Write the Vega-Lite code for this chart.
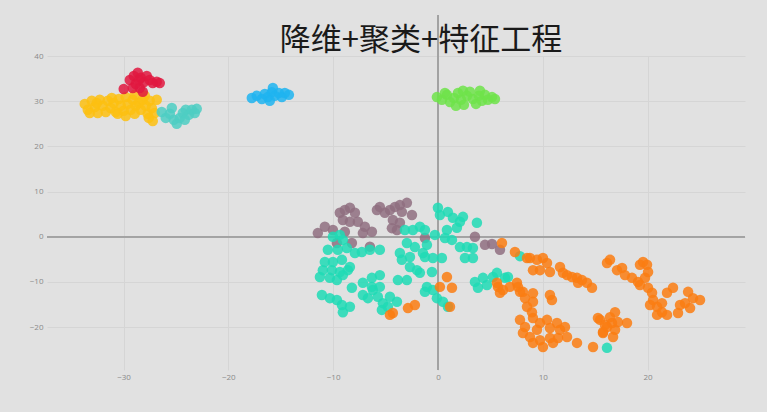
{
  "$schema": "https://vega.github.io/schema/vega-lite/v6.json",
  "width": 698,
  "height": 314,
  "autosize": {"type": "none"},
  "padding": {"left": 47, "top": 56, "right": 22, "bottom": 42},
  "background": "#e1e1e1",
  "title": {
    "text": "降维+聚类+特征工程",
    "font": "Noto Sans CJK SC",
    "fontSize": 31,
    "fontWeight": "normal",
    "color": "#1a1a1a",
    "anchor": "middle",
    "frame": "group",
    "baseline": "bottom",
    "offset": 2,
    "dy": 75,
    "dx": 25
  },
  "config": {
    "view": {"stroke": null},
    "axis": {
      "domain": false,
      "ticks": false,
      "grid": true,
      "gridColor": "#d5d5d5",
      "gridWidth": 1,
      "labelColor": "#8a8a8a",
      "labelFont": "Open Sans",
      "labelFontSize": 8,
      "title": null
    }
  },
  "data": {
    "values": [
      {"x": -11.46, "y": 0.8, "c": "mauve"},
      {"x": -10.79, "y": 2.2, "c": "mauve"},
      {"x": -10.02, "y": 1.5, "c": "mauve"},
      {"x": -9.36, "y": 5.3, "c": "mauve"},
      {"x": -8.88, "y": 5.9, "c": "mauve"},
      {"x": -8.40, "y": 6.4, "c": "mauve"},
      {"x": -7.92, "y": 5.3, "c": "mauve"},
      {"x": -9.07, "y": 3.7, "c": "mauve"},
      {"x": -8.40, "y": 3.3, "c": "mauve"},
      {"x": -7.64, "y": 3.3, "c": "mauve"},
      {"x": -6.97, "y": 2.2, "c": "mauve"},
      {"x": -7.16, "y": 0.8, "c": "mauve"},
      {"x": -6.30, "y": 1.1, "c": "mauve"},
      {"x": -5.82, "y": 5.9, "c": "mauve"},
      {"x": -5.54, "y": 6.6, "c": "mauve"},
      {"x": -5.06, "y": 5.3, "c": "mauve"},
      {"x": -4.58, "y": 5.9, "c": "mauve"},
      {"x": -4.10, "y": 6.6, "c": "mauve"},
      {"x": -3.63, "y": 7.0, "c": "mauve"},
      {"x": -2.96, "y": 7.5, "c": "mauve"},
      {"x": -3.44, "y": 5.5, "c": "mauve"},
      {"x": -2.48, "y": 4.8, "c": "mauve"},
      {"x": -4.30, "y": 3.7, "c": "mauve"},
      {"x": -3.63, "y": 3.1, "c": "mauve"},
      {"x": -4.39, "y": 1.9, "c": "mauve"},
      {"x": -3.91, "y": 1.5, "c": "mauve"},
      {"x": -6.49, "y": -2.2, "c": "mauve"},
      {"x": -8.21, "y": -1.4, "c": "mauve"},
      {"x": -9.64, "y": -1.4, "c": "mauve"},
      {"x": -8.88, "y": 1.1, "c": "mauve"},
      {"x": -1.24, "y": -0.3, "c": "mauve"},
      {"x": 3.53, "y": 0.0, "c": "mauve"},
      {"x": 4.49, "y": -1.8, "c": "mauve"},
      {"x": 5.16, "y": -1.6, "c": "mauve"},
      {"x": 5.92, "y": -2.9, "c": "mauve"},

      {"x": -10.02, "y": 0.0, "c": "turq"},
      {"x": -9.36, "y": 0.4, "c": "turq"},
      {"x": -9.07, "y": -0.7, "c": "turq"},
      {"x": -10.50, "y": -2.9, "c": "turq"},
      {"x": -9.55, "y": -2.9, "c": "turq"},
      {"x": -8.69, "y": -2.5, "c": "turq"},
      {"x": -7.92, "y": -3.6, "c": "turq"},
      {"x": -7.26, "y": -3.4, "c": "turq"},
      {"x": -6.49, "y": -2.9, "c": "turq"},
      {"x": -5.54, "y": -2.9, "c": "turq"},
      {"x": -10.79, "y": -5.6, "c": "turq"},
      {"x": -10.02, "y": -5.6, "c": "turq"},
      {"x": -9.16, "y": -5.1, "c": "turq"},
      {"x": -8.40, "y": -6.7, "c": "turq"},
      {"x": -10.98, "y": -7.4, "c": "turq"},
      {"x": -10.12, "y": -7.4, "c": "turq"},
      {"x": -9.36, "y": -7.8, "c": "turq"},
      {"x": -8.59, "y": -7.4, "c": "turq"},
      {"x": -11.26, "y": -8.9, "c": "turq"},
      {"x": -10.31, "y": -9.1, "c": "turq"},
      {"x": -9.64, "y": -9.6, "c": "turq"},
      {"x": -9.07, "y": -8.5, "c": "turq"},
      {"x": -11.07, "y": -12.9, "c": "turq"},
      {"x": -10.31, "y": -13.6, "c": "turq"},
      {"x": -9.64, "y": -14.0, "c": "turq"},
      {"x": -9.16, "y": -15.1, "c": "turq"},
      {"x": -8.40, "y": -15.5, "c": "turq"},
      {"x": -9.07, "y": -16.7, "c": "turq"},
      {"x": -8.21, "y": -11.3, "c": "turq"},
      {"x": -7.16, "y": -10.2, "c": "turq"},
      {"x": -6.30, "y": -9.1, "c": "turq"},
      {"x": -5.54, "y": -8.5, "c": "turq"},
      {"x": -7.16, "y": -12.9, "c": "turq"},
      {"x": -6.68, "y": -13.6, "c": "turq"},
      {"x": -6.21, "y": -11.8, "c": "turq"},
      {"x": -5.73, "y": -13.3, "c": "turq"},
      {"x": -5.25, "y": -14.7, "c": "turq"},
      {"x": -6.30, "y": -11.1, "c": "turq"},
      {"x": -5.54, "y": -11.1, "c": "turq"},
      {"x": -4.58, "y": -13.3, "c": "turq"},
      {"x": -3.91, "y": -14.4, "c": "turq"},
      {"x": -5.35, "y": -16.2, "c": "turq"},
      {"x": -4.77, "y": -15.5, "c": "turq"},
      {"x": -3.82, "y": -9.6, "c": "turq"},
      {"x": -2.96, "y": -9.6, "c": "turq"},
      {"x": -3.63, "y": -3.6, "c": "turq"},
      {"x": -3.44, "y": -5.1, "c": "turq"},
      {"x": -2.67, "y": -4.5, "c": "turq"},
      {"x": -2.20, "y": -2.3, "c": "turq"},
      {"x": -2.96, "y": -1.4, "c": "turq"},
      {"x": -3.15, "y": 1.5, "c": "turq"},
      {"x": -2.39, "y": 1.5, "c": "turq"},
      {"x": -1.72, "y": 2.2, "c": "turq"},
      {"x": -1.24, "y": 1.5, "c": "turq"},
      {"x": -2.67, "y": -6.7, "c": "turq"},
      {"x": -2.00, "y": -7.4, "c": "turq"},
      {"x": -1.72, "y": -8.0, "c": "turq"},
      {"x": -1.24, "y": -4.5, "c": "turq"},
      {"x": 0.00, "y": 6.4, "c": "turq"},
      {"x": 0.19, "y": 4.8, "c": "turq"},
      {"x": 0.95, "y": 5.5, "c": "turq"},
      {"x": 1.43, "y": 4.2, "c": "turq"},
      {"x": 2.10, "y": 3.3, "c": "turq"},
      {"x": 2.39, "y": 4.4, "c": "turq"},
      {"x": 3.72, "y": 3.1, "c": "turq"},
      {"x": 1.81, "y": 2.0, "c": "turq"},
      {"x": 0.86, "y": 1.5, "c": "turq"},
      {"x": -0.29, "y": 0.4, "c": "turq"},
      {"x": 0.67, "y": -0.3, "c": "turq"},
      {"x": 1.34, "y": -0.7, "c": "turq"},
      {"x": 2.10, "y": -2.3, "c": "turq"},
      {"x": 2.77, "y": -2.3, "c": "turq"},
      {"x": 3.34, "y": -2.5, "c": "turq"},
      {"x": 2.58, "y": -4.7, "c": "turq"},
      {"x": 3.34, "y": -4.7, "c": "turq"},
      {"x": -0.48, "y": -4.7, "c": "turq"},
      {"x": 0.38, "y": -4.7, "c": "turq"},
      {"x": -1.05, "y": -1.8, "c": "turq"},
      {"x": -1.43, "y": -3.6, "c": "turq"},
      {"x": -0.57, "y": -7.8, "c": "turq"},
      {"x": -1.05, "y": -11.1, "c": "turq"},
      {"x": -1.24, "y": -12.2, "c": "turq"},
      {"x": -0.48, "y": -11.8, "c": "turq"},
      {"x": -0.10, "y": -13.6, "c": "turq"},
      {"x": 0.48, "y": -14.4, "c": "turq"},
      {"x": 0.95, "y": -15.5, "c": "turq"},
      {"x": 3.53, "y": -10.0, "c": "turq"},
      {"x": 3.82, "y": -11.3, "c": "turq"},
      {"x": 4.68, "y": -10.7, "c": "turq"},
      {"x": 5.25, "y": -8.9, "c": "turq"},
      {"x": 5.63, "y": -8.0, "c": "turq"},
      {"x": 6.40, "y": -9.1, "c": "turq"},
      {"x": 6.68, "y": -8.9, "c": "turq"},
      {"x": 4.30, "y": -9.1, "c": "turq"},
      {"x": 7.83, "y": -4.3, "c": "turq"},
      {"x": 16.13, "y": -24.6, "c": "turq"},

      {"x": -4.58, "y": -17.3, "c": "orange"},
      {"x": -4.30, "y": -16.9, "c": "orange"},
      {"x": -2.86, "y": -15.8, "c": "orange"},
      {"x": -2.20, "y": -15.1, "c": "orange"},
      {"x": 6.11, "y": -1.4, "c": "orange"},
      {"x": 7.35, "y": -3.4, "c": "orange"},
      {"x": 8.50, "y": -4.7, "c": "orange"},
      {"x": 0.19, "y": -11.1, "c": "orange"},
      {"x": 0.86, "y": -8.9, "c": "orange"},
      {"x": 1.34, "y": -11.3, "c": "orange"},
      {"x": 1.15, "y": -15.5, "c": "orange"},
      {"x": 5.73, "y": -11.1, "c": "orange"},
      {"x": 5.92, "y": -12.4, "c": "orange"},
      {"x": 6.87, "y": -11.1, "c": "orange"},
      {"x": 7.54, "y": -10.2, "c": "orange"},
      {"x": 7.83, "y": -12.2, "c": "orange"},
      {"x": 8.31, "y": -13.6, "c": "orange"},
      {"x": 5.63, "y": -10.2, "c": "orange"},
      {"x": 8.78, "y": -4.7, "c": "orange"},
      {"x": 9.45, "y": -5.1, "c": "orange"},
      {"x": 10.02, "y": -4.7, "c": "orange"},
      {"x": 10.41, "y": -5.8, "c": "orange"},
      {"x": 9.07, "y": -7.4, "c": "orange"},
      {"x": 9.74, "y": -7.4, "c": "orange"},
      {"x": 10.69, "y": -7.8, "c": "orange"},
      {"x": 11.65, "y": -6.7, "c": "orange"},
      {"x": 11.93, "y": -8.0, "c": "orange"},
      {"x": 12.32, "y": -8.5, "c": "orange"},
      {"x": 12.79, "y": -8.9, "c": "orange"},
      {"x": 13.27, "y": -9.1, "c": "orange"},
      {"x": 13.75, "y": -9.6, "c": "orange"},
      {"x": 14.22, "y": -10.2, "c": "orange"},
      {"x": 14.70, "y": -11.3, "c": "orange"},
      {"x": 13.37, "y": -10.2, "c": "orange"},
      {"x": 6.21, "y": -11.8, "c": "orange"},
      {"x": 7.64, "y": -11.1, "c": "orange"},
      {"x": 8.11, "y": -12.2, "c": "orange"},
      {"x": 9.07, "y": -12.5, "c": "orange"},
      {"x": 9.07, "y": -14.4, "c": "orange"},
      {"x": 10.69, "y": -12.9, "c": "orange"},
      {"x": 10.88, "y": -14.0, "c": "orange"},
      {"x": 8.50, "y": -15.5, "c": "orange"},
      {"x": 8.97, "y": -16.7, "c": "orange"},
      {"x": 9.07, "y": -18.0, "c": "orange"},
      {"x": 7.83, "y": -18.4, "c": "orange"},
      {"x": 8.31, "y": -20.0, "c": "orange"},
      {"x": 8.11, "y": -21.3, "c": "orange"},
      {"x": 8.78, "y": -22.2, "c": "orange"},
      {"x": 9.45, "y": -20.6, "c": "orange"},
      {"x": 9.74, "y": -19.1, "c": "orange"},
      {"x": 10.41, "y": -18.4, "c": "orange"},
      {"x": 10.69, "y": -20.2, "c": "orange"},
      {"x": 11.36, "y": -19.1, "c": "orange"},
      {"x": 11.65, "y": -20.6, "c": "orange"},
      {"x": 12.12, "y": -20.0, "c": "orange"},
      {"x": 12.32, "y": -22.2, "c": "orange"},
      {"x": 11.46, "y": -22.4, "c": "orange"},
      {"x": 10.69, "y": -22.4, "c": "orange"},
      {"x": 9.74, "y": -22.9, "c": "orange"},
      {"x": 9.07, "y": -23.5, "c": "orange"},
      {"x": 10.02, "y": -24.4, "c": "orange"},
      {"x": 10.98, "y": -23.5, "c": "orange"},
      {"x": 13.27, "y": -23.5, "c": "orange"},
      {"x": 14.80, "y": -24.4, "c": "orange"},
      {"x": 15.47, "y": -18.4, "c": "orange"},
      {"x": 16.13, "y": -20.0, "c": "orange"},
      {"x": 15.75, "y": -21.3, "c": "orange"},
      {"x": 16.61, "y": -19.1, "c": "orange"},
      {"x": 16.90, "y": -20.6, "c": "orange"},
      {"x": 16.71, "y": -22.2, "c": "orange"},
      {"x": 16.13, "y": -5.8, "c": "orange"},
      {"x": 16.42, "y": -5.1, "c": "orange"},
      {"x": 17.09, "y": -7.4, "c": "orange"},
      {"x": 17.57, "y": -6.9, "c": "orange"},
      {"x": 17.85, "y": -8.5, "c": "orange"},
      {"x": 18.52, "y": -9.1, "c": "orange"},
      {"x": 19.09, "y": -10.0, "c": "orange"},
      {"x": 19.28, "y": -6.2, "c": "orange"},
      {"x": 19.57, "y": -5.6, "c": "orange"},
      {"x": 19.95, "y": -6.2, "c": "orange"},
      {"x": 20.05, "y": -7.8, "c": "orange"},
      {"x": 19.76, "y": -9.1, "c": "orange"},
      {"x": 19.28, "y": -10.7, "c": "orange"},
      {"x": 20.05, "y": -11.3, "c": "orange"},
      {"x": 20.43, "y": -12.4, "c": "orange"},
      {"x": 20.53, "y": -14.0, "c": "orange"},
      {"x": 20.24, "y": -15.1, "c": "orange"},
      {"x": 20.91, "y": -15.5, "c": "orange"},
      {"x": 21.38, "y": -16.7, "c": "orange"},
      {"x": 21.86, "y": -17.3, "c": "orange"},
      {"x": 20.91, "y": -17.3, "c": "orange"},
      {"x": 21.38, "y": -14.7, "c": "orange"},
      {"x": 21.86, "y": -12.4, "c": "orange"},
      {"x": 22.43, "y": -11.3, "c": "orange"},
      {"x": 23.10, "y": -15.1, "c": "orange"},
      {"x": 22.91, "y": -16.9, "c": "orange"},
      {"x": 23.58, "y": -14.7, "c": "orange"},
      {"x": 23.87, "y": -12.2, "c": "orange"},
      {"x": 24.34, "y": -13.6, "c": "orange"},
      {"x": 25.01, "y": -14.0, "c": "orange"},
      {"x": 24.06, "y": -15.8, "c": "orange"},
      {"x": 15.27, "y": -18.0, "c": "orange"},
      {"x": 15.94, "y": -19.5, "c": "orange"},
      {"x": 16.42, "y": -17.8, "c": "orange"},
      {"x": 16.90, "y": -16.7, "c": "orange"},
      {"x": 17.18, "y": -18.9, "c": "orange"},
      {"x": 18.04, "y": -19.1, "c": "orange"},
      {"x": 15.75, "y": -21.1, "c": "orange"},

      {"x": -33.70, "y": 29.4, "c": "yellow"},
      {"x": -33.41, "y": 28.1, "c": "yellow"},
      {"x": -33.03, "y": 30.1, "c": "yellow"},
      {"x": -32.74, "y": 28.7, "c": "yellow"},
      {"x": -32.46, "y": 27.4, "c": "yellow"},
      {"x": -32.27, "y": 30.3, "c": "yellow"},
      {"x": -31.98, "y": 29.0, "c": "yellow"},
      {"x": -31.69, "y": 27.6, "c": "yellow"},
      {"x": -31.50, "y": 30.1, "c": "yellow"},
      {"x": -31.22, "y": 28.5, "c": "yellow"},
      {"x": -30.93, "y": 29.6, "c": "yellow"},
      {"x": -30.74, "y": 27.6, "c": "yellow"},
      {"x": -30.45, "y": 30.5, "c": "yellow"},
      {"x": -30.26, "y": 29.0, "c": "yellow"},
      {"x": -29.98, "y": 27.9, "c": "yellow"},
      {"x": -29.79, "y": 30.9, "c": "yellow"},
      {"x": -29.60, "y": 29.4, "c": "yellow"},
      {"x": -29.31, "y": 28.1, "c": "yellow"},
      {"x": -29.12, "y": 30.3, "c": "yellow"},
      {"x": -28.93, "y": 31.4, "c": "yellow"},
      {"x": -28.83, "y": 29.0, "c": "yellow"},
      {"x": -28.54, "y": 29.6, "c": "yellow"},
      {"x": -28.35, "y": 28.1, "c": "yellow"},
      {"x": -28.16, "y": 30.3, "c": "yellow"},
      {"x": -27.88, "y": 29.0, "c": "yellow"},
      {"x": -27.69, "y": 27.2, "c": "yellow"},
      {"x": -27.50, "y": 30.1, "c": "yellow"},
      {"x": -27.30, "y": 28.5, "c": "yellow"},
      {"x": -27.02, "y": 27.4, "c": "yellow"},
      {"x": -26.83, "y": 30.3, "c": "yellow"},
      {"x": -27.59, "y": 26.3, "c": "yellow"},
      {"x": -27.21, "y": 25.6, "c": "yellow"},
      {"x": -33.22, "y": 27.4, "c": "yellow"},
      {"x": -32.55, "y": 29.6, "c": "yellow"},
      {"x": -31.12, "y": 30.7, "c": "yellow"},
      {"x": -30.55, "y": 27.2, "c": "yellow"},
      {"x": -29.79, "y": 26.7, "c": "yellow"},
      {"x": -28.93, "y": 27.2, "c": "yellow"},
      {"x": -27.97, "y": 31.2, "c": "yellow"},

      {"x": -29.98, "y": 32.7, "c": "red"},
      {"x": -29.40, "y": 34.7, "c": "red"},
      {"x": -29.02, "y": 35.6, "c": "red"},
      {"x": -28.64, "y": 36.3, "c": "red"},
      {"x": -28.35, "y": 35.2, "c": "red"},
      {"x": -28.83, "y": 33.8, "c": "red"},
      {"x": -28.45, "y": 32.9, "c": "red"},
      {"x": -28.07, "y": 34.2, "c": "red"},
      {"x": -27.78, "y": 35.6, "c": "red"},
      {"x": -27.50, "y": 34.7, "c": "red"},
      {"x": -27.21, "y": 34.0, "c": "red"},
      {"x": -26.83, "y": 34.3, "c": "red"},
      {"x": -26.54, "y": 34.0, "c": "red"},
      {"x": -28.16, "y": 32.1, "c": "red"},
      {"x": -29.12, "y": 32.9, "c": "red"},
      {"x": -28.54, "y": 34.7, "c": "red"},

      {"x": -26.35, "y": 27.6, "c": "teal"},
      {"x": -25.97, "y": 26.3, "c": "teal"},
      {"x": -25.58, "y": 27.2, "c": "teal"},
      {"x": -25.20, "y": 25.9, "c": "teal"},
      {"x": -24.92, "y": 25.0, "c": "teal"},
      {"x": -24.63, "y": 26.3, "c": "teal"},
      {"x": -24.34, "y": 27.4, "c": "teal"},
      {"x": -24.06, "y": 28.1, "c": "teal"},
      {"x": -23.77, "y": 27.0, "c": "teal"},
      {"x": -23.48, "y": 28.1, "c": "teal"},
      {"x": -23.20, "y": 27.4, "c": "teal"},
      {"x": -23.01, "y": 28.3, "c": "teal"},
      {"x": -24.15, "y": 25.9, "c": "teal"},
      {"x": -25.39, "y": 28.5, "c": "teal"},

      {"x": -17.76, "y": 30.7, "c": "blue"},
      {"x": -17.28, "y": 31.2, "c": "blue"},
      {"x": -16.80, "y": 30.5, "c": "blue"},
      {"x": -16.52, "y": 31.6, "c": "blue"},
      {"x": -16.23, "y": 30.9, "c": "blue"},
      {"x": -15.85, "y": 32.0, "c": "blue"},
      {"x": -15.56, "y": 31.2, "c": "blue"},
      {"x": -15.18, "y": 31.8, "c": "blue"},
      {"x": -14.89, "y": 30.9, "c": "blue"},
      {"x": -14.61, "y": 31.8, "c": "blue"},
      {"x": -14.22, "y": 31.4, "c": "blue"},
      {"x": -15.75, "y": 32.9, "c": "blue"},
      {"x": -16.04, "y": 30.1, "c": "blue"},

      {"x": -0.10, "y": 30.9, "c": "green"},
      {"x": 0.38, "y": 30.3, "c": "green"},
      {"x": 0.86, "y": 31.4, "c": "green"},
      {"x": 1.15, "y": 29.8, "c": "green"},
      {"x": 1.53, "y": 30.7, "c": "green"},
      {"x": 1.91, "y": 31.8, "c": "green"},
      {"x": 2.20, "y": 30.3, "c": "green"},
      {"x": 2.48, "y": 29.2, "c": "green"},
      {"x": 2.77, "y": 31.2, "c": "green"},
      {"x": 3.05, "y": 32.1, "c": "green"},
      {"x": 3.34, "y": 30.5, "c": "green"},
      {"x": 3.63, "y": 29.4, "c": "green"},
      {"x": 3.91, "y": 31.2, "c": "green"},
      {"x": 4.20, "y": 30.1, "c": "green"},
      {"x": 4.49, "y": 31.4, "c": "green"},
      {"x": 4.77, "y": 30.3, "c": "green"},
      {"x": 5.16, "y": 30.9, "c": "green"},
      {"x": 5.44, "y": 30.5, "c": "green"},
      {"x": 1.72, "y": 29.0, "c": "green"},
      {"x": 4.01, "y": 32.3, "c": "green"},
      {"x": 0.67, "y": 31.8, "c": "green"},
      {"x": 2.39, "y": 32.3, "c": "green"}
    ]
  },
  "layer": [
    {
      "mark": {"type": "rule", "color": "#a3a3a3", "strokeWidth": 1.2},
      "encoding": {
        "x": {"datum": 0, "type": "quantitative"},
        "y": {"datum": -29.5, "type": "quantitative"},
        "y2": {"datum": 49}
      }
    },
    {
      "mark": {"type": "rule", "color": "#a3a3a3", "strokeWidth": 1.2},
      "encoding": {
        "y": {"datum": 0, "type": "quantitative"}
      }
    },
    {
      "mark": {"type": "circle", "size": 110, "opacity": 0.85},
      "encoding": {
        "x": {
          "field": "x",
          "type": "quantitative",
          "scale": {"domain": [-37.3, 29.3], "nice": false, "zero": false},
          "axis": {"values": [-30, -20, -10, 0, 10, 20], "labelPadding": 3}
        },
        "y": {
          "field": "y",
          "type": "quantitative",
          "scale": {"domain": [-29.5, 40], "nice": false, "zero": false},
          "axis": {"values": [-20, -10, 0, 10, 20, 30, 40], "labelPadding": 4}
        },
        "color": {
          "field": "c",
          "type": "nominal",
          "scale": {
            "domain": ["yellow", "red", "teal", "blue", "green", "mauve", "turq", "orange"],
            "range": ["#fdc010", "#e0173f", "#4dcec3", "#1eb4f0", "#6fe34a", "#8f6e80", "#1fdbb5", "#fa7d12"]
          },
          "legend": null
        }
      }
    }
  ]
}
